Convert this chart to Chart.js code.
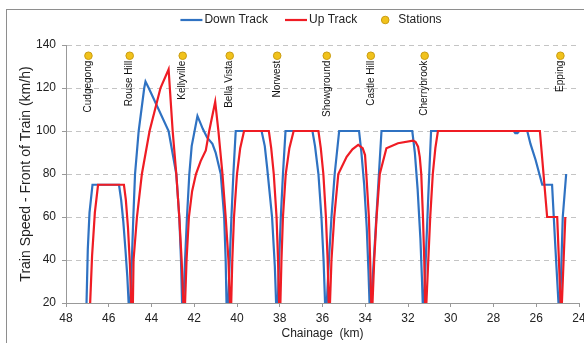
<!DOCTYPE html>
<html lang="en">
<head>
  <meta charset="UTF-8" />
  <title>Train Speed - Down and Up Track</title>
  <script src="https://cdn.jsdelivr.net/npm/chart.js@4.4.1/dist/chart.umd.min.js"></script>
  <style>
    body { margin: 0; background: #fff; overflow: hidden; }
    .frame { position: absolute; left: 6px; top: 9px; width: 640px; height: 400px; border: 1px solid #8e8e8e; }
    .wrap { position: absolute; left: 0; top: 0; width: 584px; height: 343px; }
  </style>
</head>
<body>

<div class="frame"></div>
<div class="wrap"><canvas id="speedChart"></canvas></div>

<script>
  // chainage (km) and speed (km/h); 0 = stopped at platform
  const downKm = [47.08, 47.04, 46.98, 46.90, 46.76, 45.52, 45.42, 45.32, 45.22, 45.13, 45.07, 45.03, 44.99, 44.92, 44.85, 44.77, 44.60, 44.34, 44.28, 44.13,
    43.20, 42.84, 42.70, 42.62, 42.57, 42.54, 42.51, 42.43, 42.34, 42.23, 42.12, 41.85, 41.60, 41.40, 41.15, 41.00, 40.76, 40.60, 40.53, 40.49,
    40.45, 40.41, 40.34, 40.26, 40.17, 40.06, 38.85, 38.70, 38.59, 38.36, 38.23, 38.17, 38.13, 38.09, 38.03, 37.95, 37.85, 37.73, 36.47, 36.35,
    36.19, 36.05, 35.95, 35.88, 35.84, 35.80, 35.70, 35.58, 35.43, 35.22, 34.29, 34.18, 34.05, 33.93, 33.85, 33.80, 33.76, 33.72, 33.48, 33.24,
    31.80, 31.68, 31.55, 31.42, 31.35, 31.31, 31.28, 31.25, 31.15, 31.05, 30.92, 27.05, 26.98, 26.88, 26.80, 26.42, 26.27, 26.03, 25.72, 25.26,
    25.10, 24.96, 24.92, 24.88, 24.76, 24.60];
  const downSpeed = [0, 20, 45, 62, 75, 75, 68, 58, 45, 32, 20, 0, 20, 40, 60, 80, 100, 120, 123, 120,
    100, 80, 60, 40, 20, 0, 20, 40, 60, 80, 93, 107, 101, 97, 94, 90, 80, 60, 40, 20,
    0, 20, 40, 60, 80, 100, 100, 93, 83, 60, 37, 20, 0, 20, 40, 60, 80, 100, 100, 93,
    80, 60, 40, 20, 0, 20, 40, 60, 80, 100, 100, 90, 75, 55, 35, 20, 0, 20, 60, 100,
    100, 90, 73, 50, 32, 20, 0, 20, 45, 70, 100, 100, 99, 99, 100, 100, 94, 86.5, 75, 75,
    45, 20, 0, 20, 60, 80];

  const upKm = [46.92, 46.87, 46.78, 46.65, 46.50, 45.29, 45.20, 45.10, 45.01, 44.95, 44.91, 44.87, 44.84, 44.68, 44.45, 44.09, 43.58, 43.20, 43.01, 42.84,
    42.70, 42.59, 42.51, 42.47, 42.43, 42.36, 42.25, 42.10, 41.92, 41.70, 41.46, 41.30, 41.02, 40.87, 40.68, 40.53, 40.40, 40.33, 40.30, 40.27,
    40.22, 40.14, 40.00, 39.85, 39.67, 38.51, 38.40, 38.28, 38.15, 38.08, 38.03, 38.00, 37.97, 37.92, 37.85, 37.72, 37.55, 37.35, 36.19, 36.08,
    35.96, 35.84, 35.76, 35.71, 35.68, 35.65, 35.58, 35.45, 35.26, 34.87, 34.60, 34.33, 34.12, 34.01, 33.95, 33.83, 33.77, 33.72, 33.69, 33.66,
    33.58, 33.47, 33.32, 33.01, 32.47, 31.77, 31.65, 31.53, 31.45, 31.38, 31.30, 31.24, 31.20, 31.17, 31.14, 31.05, 30.96, 30.84, 30.72, 30.60,
    25.83, 25.49, 25.02, 24.86, 24.84, 24.80, 24.64];
  const upSpeed = [0, 20, 42, 62, 75, 75, 68, 55, 38, 20, 0, 20, 40, 60, 80, 100, 120, 128.7, 100, 80,
    60, 40, 20, 0, 20, 40, 60, 72, 80, 86, 91, 100, 113.6, 100, 80, 60, 40, 20, 0, 20,
    40, 60, 80, 92, 100, 100, 92, 80, 60, 40, 20, 0, 20, 40, 60, 80, 92, 100, 100, 92,
    80, 60, 40, 20, 0, 20, 40, 60, 80, 88, 91.5, 93.5, 92, 88.8, 80, 60, 40, 20, 0, 20,
    40, 60, 80, 92, 94.3, 95.5, 95, 92.7, 88, 80, 60, 40, 20, 0, 20, 40, 60, 80, 92, 100,
    100, 60, 60, 20, 0, 20, 60];

  const stationNames = ['Cudgegong', 'Rouse Hill', 'Kellyville', 'Bella Vista', 'Norwest', 'Showground', 'Castle Hill', 'Cherrybrook', 'Epping'];
  const stationKm = [46.95, 45.02, 42.54, 40.34, 38.12, 35.80, 33.74, 31.22, 24.87];
  const stationLevel = 135;

  const FONT = '"Liberation Sans", Arial, sans-serif';
  Chart.defaults.font.family = FONT;
  Chart.defaults.font.size = 12;
  Chart.defaults.color = '#222';

  const toPoints = (xs, ys) => xs.map((x, i) => ({ x: x, y: ys[i] }));

  // vertical station names hanging under each marker
  const stationLabels = {
    id: 'stationLabels',
    beforeDatasetsDraw(chart) {
      const { ctx, scales: { x, y } } = chart;
      ctx.save();
      ctx.font = '10px ' + FONT;
      ctx.fillStyle = '#111';
      ctx.textAlign = 'right';
      ctx.textBaseline = 'middle';
      stationKm.forEach((km, i) => {
        ctx.save();
        ctx.translate(x.getPixelForValue(km), y.getPixelForValue(stationLevel) + 5);
        ctx.rotate(-Math.PI / 2);
        ctx.fillText(stationNames[i], 0, 0);
        ctx.restore();
      });
      ctx.restore();
    }
  };

  // Excel style legend row above the plot
  const legendRow = {
    id: 'legendRow',
    afterDraw(chart) {
      const ctx = chart.ctx;
      const items = chart.data.datasets;
      const box = 22, gap = 2, spacing = 17, ly = 20;
      ctx.save();
      ctx.font = '12px ' + FONT;
      ctx.textBaseline = 'middle';
      const widths = items.map(d => box + gap + ctx.measureText(d.label).width);
      let lx = 311 - (widths.reduce((a, b) => a + b, 0) + spacing * (items.length - 1)) / 2;
      items.forEach((d, i) => {
        if (d.showLine) {
          ctx.strokeStyle = d.borderColor;
          ctx.lineWidth = d.borderWidth;
          ctx.beginPath();
          ctx.moveTo(lx, ly);
          ctx.lineTo(lx + box, ly);
          ctx.stroke();
        } else {
          ctx.fillStyle = d.backgroundColor;
          ctx.strokeStyle = d.borderColor;
          ctx.lineWidth = 1;
          ctx.beginPath();
          ctx.arc(lx + box / 2, ly, d.pointRadius, 0, Math.PI * 2);
          ctx.fill();
          ctx.stroke();
        }
        ctx.fillStyle = '#222';
        ctx.fillText(d.label, lx + box + gap, ly);
        lx += widths[i] + spacing;
      });
      ctx.restore();
    }
  };

  const ctx = document.getElementById('speedChart').getContext('2d');
  const speedChart = new Chart(ctx, {
    type: 'scatter',
    data: {
      datasets: [
        {
          label: 'Down Track',
          data: toPoints(downKm, downSpeed),
          showLine: true,
          borderColor: '#2f72c2',
          borderWidth: 2.2,
          pointRadius: 0,
          tension: 0,
          clip: 0,
          order: 2
        },
        {
          label: 'Up Track',
          data: toPoints(upKm, upSpeed),
          showLine: true,
          borderColor: '#ef1c24',
          borderWidth: 2.2,
          pointRadius: 0,
          tension: 0,
          clip: 0,
          order: 1
        },
        {
          label: 'Stations',
          data: stationKm.map(km => ({ x: km, y: stationLevel })),
          showLine: false,
          pointRadius: 3.8,
          backgroundColor: '#f1c21b',
          borderColor: '#c99c12',
          borderWidth: 1,
          order: 0
        }
      ]
    },
    options: {
      responsive: true,
      maintainAspectRatio: false,
      animation: false,
      layout: { padding: { top: 45, left: 0, right: 0, bottom: 0 } },
      plugins: {
        legend: { display: false },
        tooltip: { enabled: false }
      },
      scales: {
        x: {
          type: 'linear',
          reverse: true,
          min: 24,
          max: 48,
          ticks: { stepSize: 2, padding: 4 },
          grid: { drawOnChartArea: false, tickLength: 4, tickColor: '#999' },
          border: { color: '#999' },
          title: { display: true, text: 'Chainage  (km)', padding: { top: 0, bottom: 2 } },
          afterFit(s) { s.height = 40; s.paddingRight = 2; }
        },
        y: {
          min: 20,
          max: 140,
          ticks: { stepSize: 20, padding: 6 },
          grid: { color: '#c4c4c4', tickLength: 4, tickColor: '#999', tickBorderDash: [] },
          border: { color: '#999', dash: [5, 4] },
          title: { display: true, text: 'Train Speed - Front of Train (km/h)', font: { size: 14 }, padding: { top: 18 } },
          afterFit(s) { s.width = 66; }
        }
      }
    },
    plugins: [stationLabels, legendRow]
  });
</script>
</body>
</html>
